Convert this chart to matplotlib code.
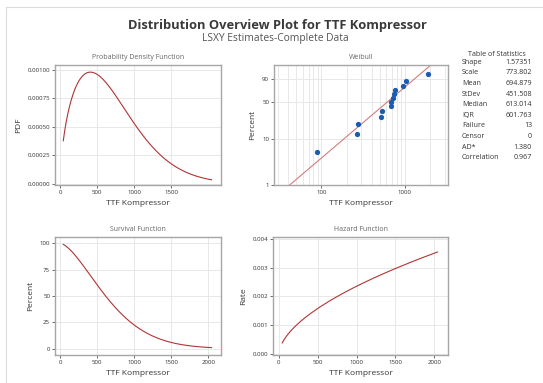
import numpy as np
import matplotlib
matplotlib.use("Agg")
import matplotlib.pyplot as plt
from matplotlib.lines import Line2D
from matplotlib.ticker import FixedLocator, NullFormatter, LogLocator

plt.rcParams['font.family'] = ['Open Sans', 'DejaVu Sans']

# ---- data ----
failure_times = [88, 263, 273, 511, 529, 680, 690, 711, 738, 765, 938, 1028, 1905]
shape = 1.57351
scale = 773.802
stat_names = ["Shape", "Scale", "Mean", "StDev", "Median", "IQR", "Failure", "Censor", "AD*", "Correlation"]
stat_values = ["1.57351", "773.802", "694.879", "451.508", "613.014", "601.763", "13", "0", "1.380", "0.967"]
pct_ticks = [1, 10, 50, 90]
lin_xticks = [0, 500, 1000, 1500, 2000]

# fitted distribution curves from the estimated parameters
x_lo = scale * (-np.log(0.99)) ** (1 / shape)
x_hi = scale * (-np.log(0.01)) ** (1 / shape)
x = np.linspace(x_lo, x_hi, 400)
z = (x / scale) ** shape
pdf = (shape / scale) * (x / scale) ** (shape - 1) * np.exp(-z)
surv = 100 * np.exp(-z)
haz = (shape / scale) * (x / scale) ** (shape - 1)

W, H = 543, 383
fig = plt.figure(figsize=(W / 100, H / 100), dpi=100)

def ax_at(l, t, r, b):
    return fig.add_axes([l / W, 1 - b / H, (r - l) / W, (b - t) / H])

CURVE = '#b03535'
SPINE = '#a6a6a6'
GRID = '#e8e8e8'
TXT = '#333333'

def style(ax):
    for s in ax.spines.values():
        s.set_color(SPINE)
        s.set_linewidth(1.0)
    ax.tick_params(labelsize=4.4, colors=TXT, length=2, width=0.5, pad=1.5)
    ax.tick_params(which='minor', length=0)
    ax.grid(True, color=GRID, linewidth=0.7)
    ax.set_axisbelow(True)

def title(ax, s):
    ax.set_title(s, fontsize=5, color='#666666', pad=4)

def labels(ax, xl, yl):
    ax.set_xlabel(xl, fontsize=6, color=TXT, labelpad=4)
    ax.set_ylabel(yl, fontsize=6, color=TXT, labelpad=4)

# PDF
ax1 = ax_at(55, 65, 221, 185)
ax1.plot(x, pdf, color=CURVE, lw=0.8)
ax1.set_xlim(-70, 2170)
ax1.set_ylim(-0.00001, 0.00104)
ax1.set_xticks(lin_xticks[:-1])
ax1.set_yticks([0, 0.00025, 0.0005, 0.00075, 0.001])
ax1.set_yticklabels(["0.00000", "0.00025", "0.00050", "0.00075", "0.00100"])
style(ax1)
title(ax1, "Probability Density Function")
labels(ax1, "TTF Kompressor", "PDF")

# Weibull probability plot
fwd = lambda p: np.log(-np.log(1 - np.clip(p, 1e-6, 99.9999) / 100))
inv = lambda w: 100 * (1 - np.exp(-np.exp(w)))
n = len(failure_times)
ranks = [100 * (i + 1 - 0.3) / (n + 0.4) for i in range(n)]
ax2 = ax_at(274, 65, 448, 185)
ax2.set_xscale('log')
ax2.set_yscale('function', functions=(fwd, inv))
xl = np.logspace(np.log10(20), np.log10(4000), 200)
pl = 100 * (1 - np.exp(-(xl / scale) ** shape))
ax2.plot(xl, pl, color='#d27f7a', lw=0.8)
ax2.plot(failure_times, ranks, 'o', color='#1a5cb0', ms=3.8, mec='none')
ax2.set_xlim(27, 3280)
ax2.set_ylim(1, 99)
ax2.yaxis.set_major_locator(FixedLocator(pct_ticks))
ax2.set_yticklabels([str(t) for t in pct_ticks])
ax2.yaxis.set_minor_locator(FixedLocator([]))
ax2.xaxis.set_major_locator(FixedLocator([100, 1000]))
ax2.set_xticklabels(["100", "1000"])
ax2.xaxis.set_minor_locator(LogLocator(base=10, subs=np.arange(2, 10)))
ax2.xaxis.set_minor_formatter(NullFormatter())
style(ax2)
ax2.grid(True, which='minor', axis='x', color=GRID, linewidth=0.7)
title(ax2, "Weibull")
labels(ax2, "TTF Kompressor", "Percent")

# Survival
ax3 = ax_at(55, 237, 221, 355)
ax3.plot(x, surv, color=CURVE, lw=0.8)
ax3.set_xlim(-70, 2170)
ax3.set_ylim(-6, 106)
ax3.set_xticks(lin_xticks)
ax3.set_yticks([0, 25, 50, 75, 100])
style(ax3)
title(ax3, "Survival Function")
labels(ax3, "TTF Kompressor", "Percent")

# Hazard
ax4 = ax_at(273, 237, 448, 355)
ax4.plot(x, haz, color=CURVE, lw=0.8)
ax4.set_xlim(-77, 2177)
ax4.set_ylim(-0.00004, 0.00407)
ax4.set_xticks(lin_xticks)
ax4.set_yticks([0, 0.001, 0.002, 0.003, 0.004])
ax4.set_yticklabels(["0.000", "0.001", "0.002", "0.003", "0.004"])
style(ax4)
title(ax4, "Hazard Function")
labels(ax4, "TTF Kompressor", "Rate")

# titles
fig.text(277 / W, 1 - 25 / H, "Distribution Overview Plot for TTF Kompressor",
         ha='center', va='center', fontsize=9.3, fontweight='bold', color='#3a3a3a')
fig.text(275 / W, 1 - 38 / H, "LSXY Estimates-Complete Data",
         ha='center', va='center', fontsize=7.4, color='#555555')

# statistics table
fs = 5.1
fig.text(497 / W, 1 - 55 / H, "Table of Statistics", ha='center', va='center', fontsize=fs, color=TXT)
for i, (nm, v) in enumerate(zip(stat_names, stat_values)):
    y = 1 - (62.3 + i * 10.6) / H
    fig.text(462 / W, y, nm, ha='left', va='center', fontsize=fs, color=TXT)
    fig.text(532 / W, y, v, ha='right', va='center', fontsize=fs, color=TXT)

# outer frame lines
fig.add_artist(Line2D([6 / W, 1], [1 - 7 / H, 1 - 7 / H], color='#dcdcdc', lw=0.8))
fig.add_artist(Line2D([6 / W, 6 / W], [0, 1 - 7 / H], color='#dcdcdc', lw=0.8))

fig.savefig("out.png", dpi=100)
